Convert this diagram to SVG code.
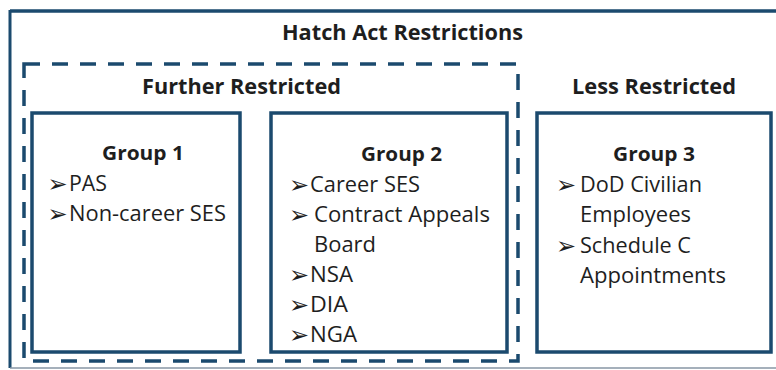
<svg xmlns="http://www.w3.org/2000/svg" width="776" height="370" viewBox="0 0 776 370">
<style>
.box{fill:none;stroke:#1b4a6e;stroke-width:3.5}
.dash{fill:none;stroke:#1b4a6e;stroke-width:3.5;stroke-dasharray:16 12}
.h{font-family:"Open Sans","Liberation Sans",sans-serif;font-weight:bold;font-size:21px;fill:#1e1e1e}
.g{font-family:"Open Sans","Liberation Sans",sans-serif;font-weight:bold;font-size:20px;fill:#1e1e1e}
.t{font-family:"Open Sans","Liberation Sans",sans-serif;font-size:21px;fill:#1e1e1e}
.a{font-family:"DejaVu Sans",sans-serif;font-size:24px;fill:#1e1e1e}
</style>
<rect width="776" height="370" fill="#ffffff"/>
<g id="frame">
<line x1="10" y1="11" x2="776" y2="11" stroke="#1b4a6e" stroke-width="3.5"/>
<line x1="10" y1="10" x2="10" y2="368" stroke="#1b4a6e" stroke-width="3"/>
<line x1="10" y1="368" x2="776" y2="368" stroke="#8796a4" stroke-width="1.5"/>
<text class="h" x="282" y="40" textLength="241" lengthAdjust="spacingAndGlyphs">Hatch Act  Restrictions</text>
</g>
<g id="further">
<rect class="dash" x="24" y="64" width="494" height="297"/>
<text class="h" x="142" y="94" textLength="199" lengthAdjust="spacingAndGlyphs">Further  Restricted</text>
</g>
<g id="less">
<text class="h" x="572" y="94" textLength="164" lengthAdjust="spacingAndGlyphs">Less  Restricted</text>
</g>
<g id="group1">
<rect class="box" x="32" y="113" width="208" height="239"/>
<text class="g" x="102" y="160" textLength="82" lengthAdjust="spacingAndGlyphs">Group 1</text>
<text class="a" x="47.5" y="192">➢</text>
<text class="t" x="69" y="191" textLength="38" lengthAdjust="spacingAndGlyphs">PAS</text>
<text class="a" x="47.5" y="222">➢</text>
<text class="t" x="69" y="221" textLength="157" lengthAdjust="spacingAndGlyphs">Non-career SES</text>
</g>
<g id="group2">
<rect class="box" x="271" y="113" width="236" height="239"/>
<text class="g" x="361" y="161" textLength="81" lengthAdjust="spacingAndGlyphs">Group 2</text>
<text class="a" x="289" y="193">➢</text>
<text class="t" x="310" y="192" textLength="110" lengthAdjust="spacingAndGlyphs">Career SES</text>
<text class="a" x="289" y="223">➢</text>
<text class="t" x="314" y="222" textLength="176" lengthAdjust="spacingAndGlyphs">Contract Appeals</text>
<text class="t" x="314" y="252" textLength="62" lengthAdjust="spacingAndGlyphs">Board</text>
<text class="a" x="289" y="283">➢</text>
<text class="t" x="310" y="282" textLength="43" lengthAdjust="spacingAndGlyphs">NSA</text>
<text class="a" x="289" y="313">➢</text>
<text class="t" x="310" y="312" textLength="38" lengthAdjust="spacingAndGlyphs">DIA</text>
<text class="a" x="289" y="343">➢</text>
<text class="t" x="310" y="342" textLength="47" lengthAdjust="spacingAndGlyphs">NGA</text>
</g>
<g id="group3">
<rect class="box" x="537" y="113" width="234" height="239"/>
<text class="g" x="613" y="161" textLength="82" lengthAdjust="spacingAndGlyphs">Group 3</text>
<text class="a" x="556" y="193">➢</text>
<text class="t" x="580" y="192" textLength="122" lengthAdjust="spacingAndGlyphs">DoD Civilian</text>
<text class="t" x="580" y="222" textLength="111" lengthAdjust="spacingAndGlyphs">Employees</text>
<text class="a" x="556" y="254">➢</text>
<text class="t" x="580" y="253" textLength="111" lengthAdjust="spacingAndGlyphs">Schedule C</text>
<text class="t" x="580" y="283" textLength="146" lengthAdjust="spacingAndGlyphs">Appointments</text>
</g>
<g id="connectors"/>
</svg>
